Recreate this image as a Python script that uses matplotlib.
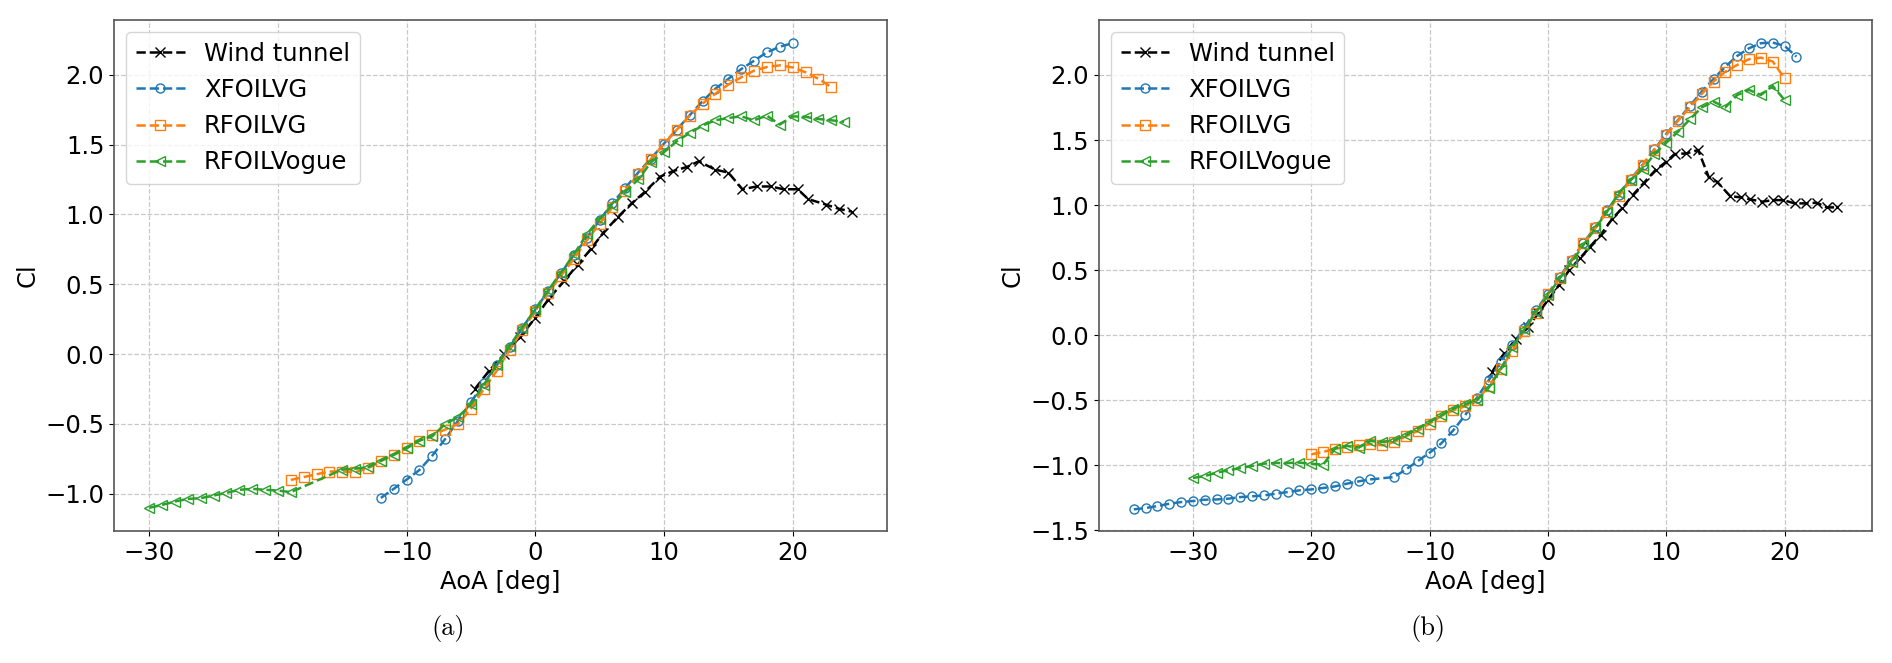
#!/usr/bin/env python3
"""Lift coefficient vs angle of attack: wind tunnel vs XFOIL/RFOIL variants."""

import matplotlib
matplotlib.use('Agg')
import matplotlib.pyplot as plt

# ---- (a) ----
a_wt_aoa = [-4.7, -3.6, -2.4, -1.2, 0.0, 1.0, 2.2, 3.3, 4.3, 5.3, 6.4, 7.5, 8.5, 9.7,
            10.7, 11.8, 12.7, 14.0, 15.0, 16.1, 17.2, 18.3, 19.3, 20.4, 21.2, 22.6, 23.6, 24.6]
a_wt_cl = [-0.25, -0.12, 0.0, 0.12, 0.26, 0.39, 0.52, 0.64, 0.75, 0.87, 0.98, 1.08, 1.16, 1.27,
           1.31, 1.34, 1.38, 1.32, 1.30, 1.18, 1.20, 1.20, 1.18, 1.18, 1.11, 1.07, 1.04, 1.02]

a_xf_aoa = list(range(-12, 21))
a_xf_cl = [-1.029, -0.964, -0.898, -0.829, -0.726, -0.607, -0.476, -0.345, -0.207, -0.08, 0.05,
           0.19, 0.32, 0.45, 0.58, 0.71, 0.83, 0.96, 1.08, 1.19, 1.30, 1.40, 1.507, 1.607, 1.71,
           1.81, 1.90, 1.97, 2.04, 2.10, 2.16, 2.20, 2.226]

a_rf_aoa = list(range(-19, 24))
a_rf_cl = [-0.90, -0.88, -0.86, -0.84, -0.84, -0.845, -0.817, -0.767, -0.719, -0.671, -0.619,
           -0.576, -0.54, -0.50, -0.39, -0.25, -0.12, 0.03, 0.17, 0.31, 0.44, 0.56, 0.683, 0.814,
           0.933, 1.052, 1.171, 1.286, 1.398, 1.505, 1.607, 1.707, 1.793, 1.864, 1.929, 1.981,
           2.029, 2.055, 2.067, 2.052, 2.017, 1.971, 1.912]

a_rv_aoa = list(range(-30, -18)) + list(range(-15, 25))
a_rv_cl = [-1.10, -1.079, -1.055, -1.036, -1.031, -1.012, -0.993, -0.971, -0.964, -0.971, -0.976,
           -0.988, -0.826, -0.82, -0.81, -0.762, -0.721, -0.674, -0.619, -0.588, -0.50, -0.45,
           -0.36, -0.22, -0.08, 0.06, 0.19, 0.321, 0.457, 0.583, 0.714, 0.857, 0.969, 1.067,
           1.162, 1.25, 1.374, 1.445, 1.524, 1.583, 1.636, 1.674, 1.69, 1.702, 1.674, 1.707,
           1.643, 1.702, 1.698, 1.683, 1.674, 1.662]

# ---- (b) ----
b_wt_aoa = [-4.7, -3.7, -2.7, -1.7, -0.8, 0.0, 0.93, 1.8, 2.7, 3.55, 4.45, 5.4, 6.3, 7.2, 8.1,
            9.1, 10.0, 10.7, 11.7, 12.7, 13.6, 14.3, 15.4, 16.3, 17.1, 18.1, 19.05, 19.9, 20.85,
            21.8, 22.7, 23.6, 24.4]
b_wt_cl = [-0.28, -0.14, -0.03, 0.06, 0.17, 0.27, 0.385, 0.5, 0.59, 0.68, 0.77, 0.89, 0.98,
           1.08, 1.17, 1.27, 1.333, 1.392, 1.397, 1.423, 1.213, 1.179, 1.069, 1.059, 1.044,
           1.026, 1.038, 1.038, 1.013, 1.013, 1.018, 0.982, 0.982]

b_xf_aoa = list(range(-35, -14)) + list(range(-13, 22))
b_xf_cl = [-1.338, -1.328, -1.313, -1.295, -1.282, -1.274, -1.264, -1.262, -1.256, -1.244,
           -1.238, -1.231, -1.218, -1.205, -1.192, -1.185, -1.174, -1.162, -1.141, -1.123,
           -1.108, -1.09, -1.031, -0.967, -0.903, -0.830, -0.731, -0.615, -0.48, -0.346,
           -0.205, -0.077, 0.059, 0.192, 0.32, 0.45, 0.58, 0.71, 0.83, 0.96, 1.08, 1.20, 1.31,
           1.428, 1.546, 1.654, 1.762, 1.872, 1.969, 2.064, 2.146, 2.205, 2.244, 2.249, 2.223,
           2.141]

b_rf_aoa = list(range(-20, 21))
b_rf_cl = [-0.915, -0.897, -0.872, -0.859, -0.846, -0.838, -0.846, -0.821, -0.777, -0.736,
           -0.679, -0.62, -0.577, -0.546, -0.50, -0.392, -0.26, -0.12, 0.033, 0.172, 0.313,
           0.441, 0.572, 0.705, 0.821, 0.949, 1.069, 1.192, 1.308, 1.423, 1.538, 1.649, 1.751,
           1.854, 1.949, 2.026, 2.077, 2.121, 2.133, 2.103, 1.974]

b_rv_aoa = list(range(-30, 21))
b_rv_cl = [-1.097, -1.082, -1.056, -1.038, -1.021, -1.005, -0.987, -0.982, -0.982, -0.979,
           -0.987, -0.995, -0.872, -0.851, -0.864, -0.813, -0.821, -0.808, -0.769, -0.718,
           -0.667, -0.615, -0.564, -0.531, -0.50, -0.403, -0.264, -0.09, 0.044, 0.179, 0.308,
           0.436, 0.564, 0.692, 0.821, 0.949, 1.095, 1.192, 1.274, 1.392, 1.479, 1.564, 1.659,
           1.751, 1.795, 1.751, 1.846, 1.885, 1.846, 1.915, 1.808]

labels = ['Wind tunnel', 'XFOILVG', 'RFOILVG', 'RFOILVogue']
markers = ['x', 'o', 's', '<']
colors = ['black', '#1f77b4', '#ff7f0e', '#2ca02c']

FS = 17.5

fig = plt.figure(figsize=(18.92, 6.63), dpi=100)
ax1 = fig.add_axes([0.0603, 0.199, 0.4085, 0.771])
ax2 = fig.add_axes([0.5807, 0.199, 0.4086, 0.771])

panels = [
    (ax1, [(a_wt_aoa, a_wt_cl), (a_xf_aoa, a_xf_cl), (a_rf_aoa, a_rf_cl), (a_rv_aoa, a_rv_cl)]),
    (ax2, [(b_wt_aoa, b_wt_cl), (b_xf_aoa, b_xf_cl), (b_rf_aoa, b_rf_cl), (b_rv_aoa, b_rv_cl)]),
]

for ax, series in panels:
    for (x, y), lab, m, c in zip(series, labels, markers, colors):
        ax.plot(x, y, linestyle='--', marker=m, color=c, markerfacecolor='none',
                markersize=6.5, linewidth=1.8, label=lab)
    ax.set_xlabel('AoA [deg]', fontsize=FS)
    ax.set_ylabel('Cl', fontsize=FS)
    ax.tick_params(labelsize=FS)
    ax.grid(True, linestyle='--', color='#c8c8c8', linewidth=0.9)
    for sp in ax.spines.values():
        sp.set_color('#555555')
        sp.set_linewidth(1.2)
    ax.legend(loc='upper left', fontsize=FS)

ax2.set_ylim(-1.505, 2.423)

fig.text(448 / 1892, 1 - 628 / 663, '(a)', family='cmr10', fontsize=19,
         ha='center', va='center')
fig.text(1428 / 1892, 1 - 628 / 663, '(b)', family='cmr10', fontsize=19,
         ha='center', va='center')

plt.savefig('out.png', dpi=100)
plt.close()
